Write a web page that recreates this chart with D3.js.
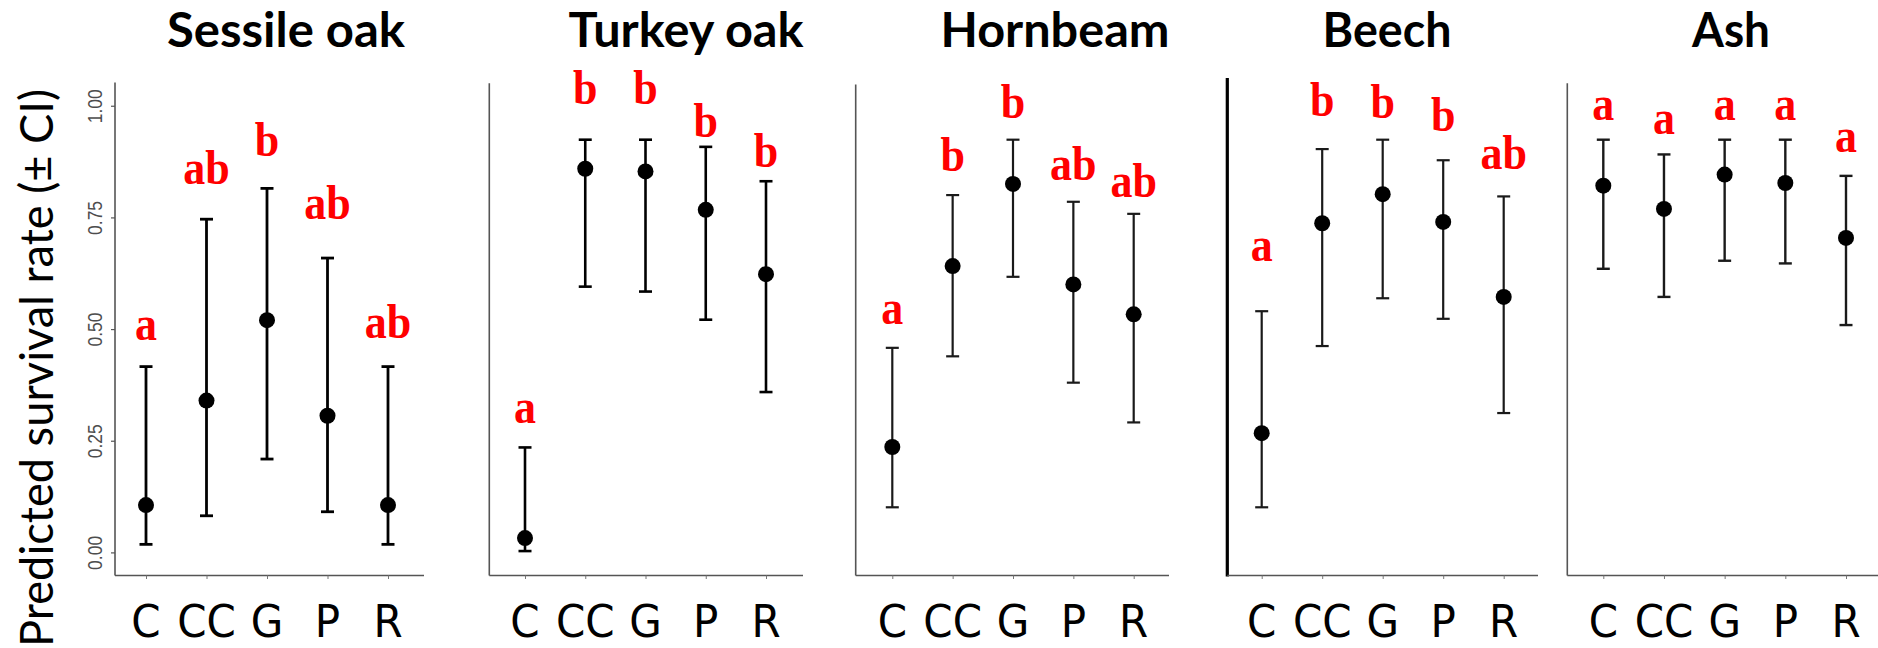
<!DOCTYPE html>
<html>
<head>
<meta charset="utf-8">
<script src="https://cdn.jsdelivr.net/npm/d3@7"></script>
<style>
  html, body { margin: 0; padding: 0; background: #fff; }
  svg { display: block; }
</style>
</head>
<body>
<svg id="chart" width="1878" height="648"></svg>
<script>
// Treatments on the x axis and species shown in each panel
const categories = ["C", "CC", "G", "P", "R"];
const species = ["Sessile oak", "Turkey oak", "Hornbeam", "Beech", "Ash"];

// Y axis ticks
const yTicks = [0, 0.25, 0.5, 0.75, 1];
const yTickLabels = ["0.00", "0.25", "0.50", "0.75", "1.00"];

// Predicted survival rate with confidence interval, per species
const sessileEst  = [0.106, 0.340, 0.520, 0.306, 0.106];
const sessileLow  = [0.018, 0.082, 0.209, 0.091, 0.018];
const sessileHigh = [0.416, 0.746, 0.815, 0.659, 0.416];
const sessileLetters = ["a", "ab", "b", "ab", "ab"];

const turkeyEst  = [0.032, 0.859, 0.853, 0.767, 0.623];
const turkeyLow  = [0.003, 0.595, 0.584, 0.521, 0.359];
const turkeyHigh = [0.235, 0.924, 0.924, 0.908, 0.831];
const turkeyLetters = ["a", "b", "b", "b", "b"];

const hornbeamEst  = [0.236, 0.641, 0.825, 0.600, 0.533];
const hornbeamLow  = [0.101, 0.439, 0.617, 0.380, 0.291];
const hornbeamHigh = [0.458, 0.800, 0.924, 0.785, 0.758];
const hornbeamLetters = ["a", "b", "b", "ab", "ab"];

const beechEst  = [0.267, 0.737, 0.802, 0.740, 0.572];
const beechLow  = [0.101, 0.462, 0.569, 0.523, 0.312];
const beechHigh = [0.540, 0.903, 0.924, 0.878, 0.797];
const beechLetters = ["a", "b", "b", "b", "ab"];

const ashEst  = [0.821, 0.769, 0.846, 0.827, 0.704];
const ashLow  = [0.635, 0.572, 0.653, 0.647, 0.509];
const ashHigh = [0.924, 0.891, 0.924, 0.924, 0.843];
const ashLetters = ["a", "a", "a", "a", "a"];

// Heights (in survival-rate units) at which the significance letters sit
const sessileLetterAt  = [0.475, 0.825, 0.887, 0.747, 0.480];
const turkeyLetterAt   = [0.290, 1.003, 1.003, 0.930, 0.863];
const hornbeamLetterAt = [0.511, 0.853, 0.972, 0.834, 0.796];
const beechLetterAt    = [0.653, 0.977, 0.972, 0.943, 0.859];
const ashLetterAt      = [0.968, 0.936, 0.968, 0.968, 0.897];

const panels = [
  { est: sessileEst,  low: sessileLow,  high: sessileHigh,  letters: sessileLetters,  letterAt: sessileLetterAt },
  { est: turkeyEst,   low: turkeyLow,   high: turkeyHigh,   letters: turkeyLetters,   letterAt: turkeyLetterAt },
  { est: hornbeamEst, low: hornbeamLow, high: hornbeamHigh, letters: hornbeamLetters, letterAt: hornbeamLetterAt },
  { est: beechEst,    low: beechLow,    high: beechHigh,    letters: beechLetters,    letterAt: beechLetterAt },
  { est: ashEst,      low: ashLow,      high: ashHigh,      letters: ashLetters,      letterAt: ashLetterAt }
].map((p, i) => ({ ...p, name: species[i] }));

// Panel geometry and styling
const layout = [
  { axisX: 115,    xEnd: 424,  firstX: 146,    lastX: 388,    axisTop: 82.5, titleX: 286,  titleW: 238, axisColor: "#555", axisW: 1.6, barColor: "#000", barW: 2.8 },
  { axisX: 489.3,  xEnd: 803,  firstX: 525,    lastX: 766,    axisTop: 83.3, titleX: 686,  titleW: 235, axisColor: "#555", axisW: 1.6, barColor: "#000", barW: 2.6 },
  { axisX: 855.7,  xEnd: 1169, firstX: 892.3,  lastX: 1133.7, axisTop: 84.4, titleX: 1055, titleW: 229, axisColor: "#555", axisW: 1.6, barColor: "#1a1a1a", barW: 2.2 },
  { axisX: 1227.3, xEnd: 1538, firstX: 1261.7, lastX: 1503.7, axisTop: 78,   titleX: 1387, titleW: 129, axisColor: "#000", axisW: 3.2, barColor: "#1a1a1a", barW: 2.2 },
  { axisX: 1567.3, xEnd: 1878, firstX: 1603.3, lastX: 1846,   axisTop: 83.3, titleX: 1731, titleW: 78,  axisColor: "#555", axisW: 1.6, barColor: "#1a1a1a", barW: 2.4 }
];

const xAxisY = 575.5;
const titleBaseline = 47;
const catBaseline = 637;

const svg = d3.select("#chart");
svg.append("rect").attr("width", 1878).attr("height", 648).attr("fill", "#fff");

const y = d3.scaleLinear().domain([0, 1]).range([552.4, 105.75]);

// Shared y-axis title
svg.append("text")
  .attr("transform", "translate(53,368) rotate(-90)")
  .attr("text-anchor", "middle")
  .attr("font-family", "Lato, 'Open Sans', sans-serif")
  .attr("font-size", 46)
  .attr("textLength", 558)
  .attr("lengthAdjust", "spacingAndGlyphs")
  .attr("fill", "#000")
  .text("Predicted survival rate (\u00B1 CI)");

panels.forEach((p, i) => {
  const L = layout[i];
  const g = svg.append("g");
  const x = d3.scalePoint().domain(categories).range([L.firstX, L.lastX]);

  // Title
  g.append("text")
    .attr("x", L.titleX).attr("y", titleBaseline)
    .attr("text-anchor", "middle")
    .attr("font-family", "Lato, 'Open Sans', sans-serif")
    .attr("font-weight", 700)
    .attr("font-size", 47)
    .attr("textLength", L.titleW)
    .attr("lengthAdjust", "spacingAndGlyphs")
    .attr("fill", "#000")
    .text(p.name);

  // Axis lines
  g.append("line")
    .attr("x1", L.axisX).attr("x2", L.axisX)
    .attr("y1", L.axisTop).attr("y2", xAxisY + (i === 3 ? 1 : 0))
    .attr("stroke", L.axisColor).attr("stroke-width", L.axisW);
  g.append("line")
    .attr("x1", L.axisX).attr("x2", L.xEnd)
    .attr("y1", xAxisY).attr("y2", xAxisY)
    .attr("stroke", "#555").attr("stroke-width", 1.6);

  // X ticks (short marks under the axis line)
  const xAxis = g.append("g")
    .attr("transform", `translate(0,${xAxisY})`)
    .call(d3.axisBottom(x).tickSize(3.5).tickFormat(""));
  xAxis.select(".domain").remove();
  xAxis.selectAll(".tick line").attr("stroke", "#777").attr("stroke-width", 1);

  // Category labels
  g.selectAll("text.cat")
    .data(categories)
    .join("text")
    .attr("class", "cat")
    .attr("transform", d => `translate(${x(d)},${catBaseline}) scale(1,1.05)`)
    .attr("text-anchor", "middle")
    .attr("font-family", "'DejaVu Sans', 'Verdana', sans-serif")
    .attr("font-size", 42)
    .attr("fill", "#000")
    .text(d => d);

  // Y axis with ticks only on the first panel
  if (i === 0) {
    const yAxis = g.append("g")
      .attr("transform", `translate(${L.axisX},0)`)
      .call(d3.axisLeft(y).tickValues(yTicks).tickSize(4)
        .tickFormat((d, k) => yTickLabels[k]));
    yAxis.select(".domain").remove();
    yAxis.selectAll(".tick line").attr("stroke", "#555").attr("stroke-width", 1.2);
    yAxis.selectAll(".tick text")
      .attr("transform", "rotate(-90)")
      .attr("x", 0).attr("y", -13.5).attr("dy", 0)
      .attr("text-anchor", "middle")
      .attr("font-family", "'Liberation Sans Narrow', 'Liberation Sans', Arial, sans-serif")
      .attr("font-size", 20)
      .attr("textLength", 34)
      .attr("lengthAdjust", "spacingAndGlyphs")
      .attr("fill", "#4d4d4d");
  }

  const rows = categories.map((c, k) => ({
    cat: c, est: p.est[k], low: p.low[k], high: p.high[k],
    letter: p.letters[k], letterAt: p.letterAt[k]
  }));

  // Error bars
  const capHalf = 6.5;
  const bars = g.selectAll("g.bar").data(rows).join("g").attr("class", "bar")
    .attr("stroke", L.barColor).attr("stroke-width", L.barW);
  bars.append("line")
    .attr("x1", d => x(d.cat)).attr("x2", d => x(d.cat))
    .attr("y1", d => y(d.low)).attr("y2", d => y(d.high));
  bars.append("line")
    .attr("x1", d => x(d.cat) - capHalf).attr("x2", d => x(d.cat) + capHalf)
    .attr("y1", d => y(d.low)).attr("y2", d => y(d.low));
  bars.append("line")
    .attr("x1", d => x(d.cat) - capHalf).attr("x2", d => x(d.cat) + capHalf)
    .attr("y1", d => y(d.high)).attr("y2", d => y(d.high));

  // Point estimates
  g.selectAll("circle.pt").data(rows).join("circle")
    .attr("class", "pt")
    .attr("cx", d => x(d.cat)).attr("cy", d => y(d.est))
    .attr("r", 8).attr("fill", "#000");

  // Significance letters
  g.selectAll("text.sig").data(rows).join("text")
    .attr("class", "sig")
    .attr("transform", d => `translate(${x(d.cat)},${y(d.letterAt)}) scale(1,1.08)`)
    .attr("text-anchor", "middle")
    .attr("font-family", "'Liberation Serif', 'Times New Roman', serif")
    .attr("font-weight", 700)
    .attr("font-size", 44)
    .attr("fill", "#ff0000")
    .text(d => d.letter);
});
</script>
</body>
</html>
